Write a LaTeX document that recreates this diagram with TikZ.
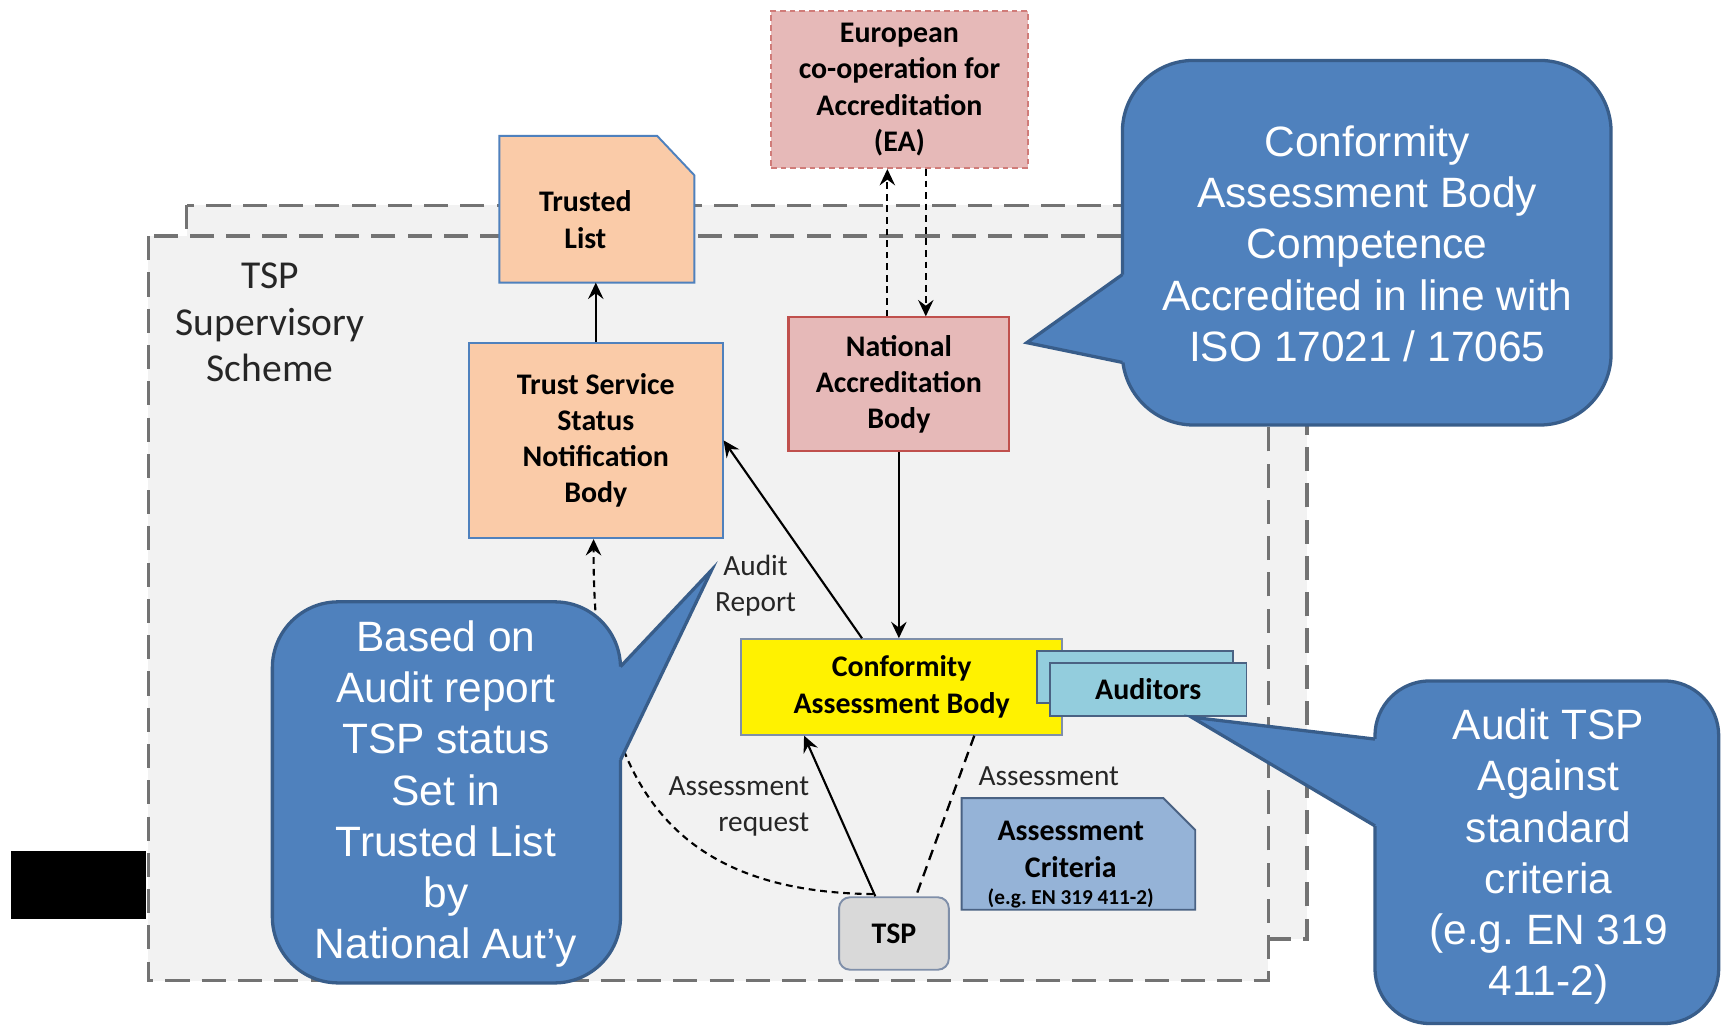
\documentclass[tikz,border=0pt]{standalone}
\usepackage{fontspec}
\setmainfont{Liberation Sans}
\newfontfamily\calfont{Carlito}
\usetikzlibrary{arrows.meta,calc}
\definecolor{cfill}{HTML}{4F81BD}
\definecolor{cline}{HTML}{385D8A}
\definecolor{orangefill}{HTML}{FACBA8}
\definecolor{bluebord}{HTML}{4F81BD}
\definecolor{pinkfill}{HTML}{E6B9B8}
\definecolor{redbord}{HTML}{C0504D}
\definecolor{audfill}{HTML}{93CDDD}
\definecolor{acfill}{HTML}{95B3D7}
\definecolor{darkbord}{HTML}{4A6283}
\definecolor{tspfill}{HTML}{D9D9D9}
\definecolor{grayline}{HTML}{737373}
\definecolor{regionfill}{HTML}{F2F2F2}
\definecolor{cabbord}{HTML}{7F8FA9}
\frenchspacing
\begin{document}
\begin{tikzpicture}[x=0.02cm,y=-0.02cm,
  boxtext/.style={font=\calfont\bfseries\fontsize{15.5}{18.8}\selectfont, align=center, text=black, inner sep=0pt},
  lbl/.style={font=\calfont\fontsize{15.2}{18.6}\selectfont, align=center, text=black!85},
  calltext/.style={font=\fontsize{22}{26.5}\selectfont, align=center, text=white},
  arr/.style={-{Stealth[length=8.5pt,width=8pt,inset=3pt]}, line width=1.1pt, black},
  darr/.style={arr, dash pattern=on 3.5pt off 2.5pt},
  dline/.style={line width=1.2pt, black, dash pattern=on 5.5pt off 3.5pt},
  region/.style={fill=regionfill, draw=grayline, line width=1.8pt, dash pattern=on 12.5pt off 6.3pt},
  callout/.style={fill=cfill, draw=cline, line width=1.7pt},
  pointer/.style={draw=cline, line width=1.7pt, line join=miter},
  obox/.style={boxtext, draw=bluebord, fill=orangefill, line width=1pt}
]
\fill[white] (0,0) rectangle (1568,935.2);
\useasboundingbox (0,0) rectangle (1568,935.2);

% supervisory scheme region
\draw[region] (170,187) rectangle (1190,855);
\draw[region] (135,215) rectangle (1155,893);

\fill[black] (10,775) rectangle (133,837);

% Trusted List
\node[minimum width=3.54cm, minimum height=2.66cm, inner sep=0pt] (tl) at (543.5,190.5) {};
\filldraw[fill=orangefill, draw=bluebord, line width=1pt] (tl.south west) -- (tl.north west) -- ($(tl.north east)+(-34,0)$) -- ($(tl.north east)+(0,36)$) -- (tl.south east) -- cycle;
\node[boxtext] (tltext) at (533,200) {Trusted\\List};

% TSSNB
\node[obox, minimum width=4.62cm, minimum height=3.56cm] (tssnb) at (542.5,401) {Trust Service\\Status\\Notification\\Body};

% EA
\node[boxtext, draw=redbord!75, fill=pinkfill, dash pattern=on 3pt off 2pt, line width=1pt, minimum width=4.68cm, minimum height=2.86cm] (ea) at (819,81.5) {European\\co-operation for\\Accreditation\\(EA)};

% NAB
\node[boxtext, draw=redbord, fill=pinkfill, line width=1.1pt, minimum width=4.02cm, minimum height=2.44cm] (nab) at (818.5,350) {National\\Accreditation\\Body};

% CAB
\node[boxtext, draw=cabbord, fill=yellow, line width=1pt, minimum width=5.84cm, minimum height=1.74cm] (cab) at (821,625.5) {Conformity\\Assessment Body};

% Auditors
\node[draw=darkbord, fill=audfill, line width=1pt, minimum width=3.58cm, minimum height=0.95cm] (audback) at (1033.5,616.25) {};
\node[boxtext, draw=darkbord, fill=audfill, line width=1pt, minimum width=3.58cm, minimum height=0.97cm] (aud) at (1045.5,627.75) {Auditors};

% Assessment Criteria
\node[minimum width=4.24cm, minimum height=2.02cm, inner sep=0pt] (ac) at (982,777.5) {};
\filldraw[fill=acfill, draw=darkbord, line width=1pt] (ac.south west) -- (ac.north west) -- ($(ac.north east)+(-29,0)$) -- ($(ac.north east)+(0,29)$) -- (ac.south east) -- cycle;
\node[boxtext] (actext) at (975,773.5) {Assessment\\Criteria};
\node[font=\calfont\bfseries\fontsize{11}{13}\selectfont, inner sep=0pt] (acsmall) at (975,818) {(e.g. EN 319 411-2)};

% TSP
\node[boxtext, draw=cabbord, fill=tspfill, rounded corners=0.2cm, line width=1pt, minimum width=2cm, minimum height=1.32cm] (tsp) at (814,850) {TSP};

% labels
\node[font=\calfont\fontsize{20.5}{24.2}\selectfont, align=center, text=black!85] (scheme) at (246,293.5) {TSP\\Supervisory\\Scheme};
\node[lbl] (auditreport) at (688,533) {Audit\\Report};
\node[lbl, align=right, anchor=east] (assreq) at (743,734.5) {Assessment\\request};
\node[lbl] (asslbl) at (955,707) {Assessment};

% connectors
\draw[arr] (tssnb.north) -- (tssnb.north |- tl.south);
\draw[arr] ($(cab.north west)!0.377!(cab.north east)$) -- (tssnb.east);
\draw[arr] (nab.south) -- (nab.south |- cab.north);
\coordinate (nabup) at ($(nab.north)+(-10.5,0)$);
\draw[darr] (nabup) -- (nabup |- ea.south);
\coordinate (eadown) at ($(ea.south)+(24,0)$);
\draw[darr] (eadown) -- (eadown |- nab.north);
\draw[arr] ($(tsp.north)+(-17,0)$) -- ($(cab.south west)+(58,0)$);
\draw[dline] ($(cab.south west)+(213,0)$) -- ($(tsp.north)+(20,0)$);
\draw[darr] ($(tsp.north)+(-19,-2)$) .. controls (600,812) and (540,700) .. ($(tssnb.south)+(-2,0)$);

% callout top right
\draw[callout, rounded corners=1.3cm] (1022,55) rectangle (1467,387);
\fill[cfill] (1022,250) -- (935,312) -- (1022,330) -- (1030,330) -- (1030,250) -- cycle;
\draw[pointer] (1022,250) -- (935,312) -- (1022,330);
\node[calltext] (cabtext) at (1245,222) {Conformity\\Assessment Body\\Competence\\Accredited in line with\\ISO 17021 / 17065};

% callout left
\draw[callout, rounded corners=1.2cm] (248,548) rectangle (565,895);
\fill[cfill] (565,607) -- (648,519) -- (565,692) -- (557,692) -- (557,607) -- cycle;
\draw[pointer] (565,607) -- (648,519) -- (565,692);
\node[calltext] (tsltext) at (406,723) {Based on\\Audit report\\TSP status\\Set in\\Trusted List\\by\\National Aut’y};

% callout bottom right
\draw[callout, rounded corners=1.0cm] (1252,620) rectangle (1565,932);
\fill[cfill] (1252,673) -- (1085,653) -- (1252,752) -- (1260,752) -- (1260,673) -- cycle;
\draw[pointer] (1252,673) -- (1085,653) -- (1252,752);
\node[calltext] (audtext) at (1410,780) {Audit TSP\\Against\\standard\\criteria\\(e.g. EN 319\\411-2)};
\end{tikzpicture}
\end{document}
